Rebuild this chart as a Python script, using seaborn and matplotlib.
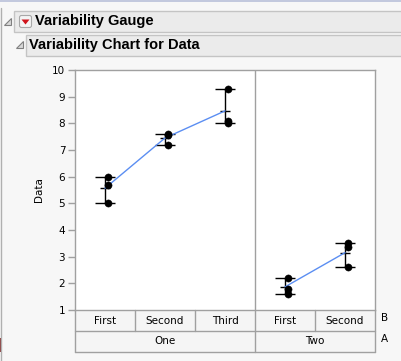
import numpy as np
import pandas as pd
import matplotlib
matplotlib.use("Agg")
import matplotlib.pyplot as plt
import matplotlib.patches as mpatches
import seaborn as sns

# ---- data ----
a_levels = ["One", "One", "One", "Two", "Two"]
b_levels = ["First", "Second", "Third", "First", "Second"]
vals_one_first = [6.0, 5.7, 5.0]
vals_one_second = [7.6, 7.55, 7.2]
vals_one_third = [9.3, 8.1, 8.0]
vals_two_first = [2.2, 1.8, 1.6]
vals_two_second = [3.5, 3.35, 2.6]
y_ticks = [1, 2, 3, 4, 5, 6, 7, 8, 9, 10]
title1 = "Variability Gauge"
title2 = "Variability Chart for Data"
y_label = "Data"

groups = [vals_one_first, vals_one_second, vals_one_third, vals_two_first, vals_two_second]
rows = []
for i, (a, b, v) in enumerate(zip(a_levels, b_levels, groups)):
    for val in v:
        rows.append({"A": a, "B": b, "pos": i, "Data": val})
df = pd.DataFrame(rows)
stats = df.groupby(["pos", "A", "B"], sort=True)["Data"].agg(["min", "max", "mean"]).reset_index()

sns.set_theme(style="white")
plt.rcParams["font.family"] = ["DejaVu Sans"]

W, H = 402, 361
fig = plt.figure(figsize=(W / 100, H / 100), dpi=100)
fig.patch.set_facecolor("#f7f7f7")

# overlay for report chrome
ov = fig.add_axes([0, 0, 1, 1], zorder=-1)
ov.set_xlim(0, W)
ov.set_ylim(H, 0)
ov.axis("off")
ov.add_patch(mpatches.Rectangle((0, 0), W, 2, facecolor="#c3c9de", edgecolor="none"))
ov.plot([1.5, 1.5], [8, H], color="#b0b0b0", lw=1)
ov.add_patch(mpatches.Rectangle((0, 338), 2, 14, facecolor="#8b3a3a", edgecolor="none"))
ov.add_patch(mpatches.Rectangle((14, 11), W, 21, facecolor="#ebebeb", edgecolor="#c4c4c4", lw=1))
ov.add_patch(mpatches.Rectangle((26, 34.5), W, 21.5, facecolor="#ebebeb", edgecolor="#c4c4c4", lw=1))
# disclosure triangles
ov.add_patch(mpatches.Polygon([[11, 17.5], [11, 25], [4, 25]], closed=True, facecolor="#d8d8d8", edgecolor="#808080", lw=0.8))
ov.add_patch(mpatches.Polygon([[23, 40.5], [23, 48], [16, 48]], closed=True, facecolor="#d8d8d8", edgecolor="#808080", lw=0.8))
# red dropdown button
ov.add_patch(mpatches.FancyBboxPatch((19.5, 15.5), 12, 12, boxstyle="round,pad=0,rounding_size=2", facecolor="#f4f4f4", edgecolor="#a8a8a8", lw=0.8))
ov.add_patch(mpatches.Polygon([[21.5, 19.5], [29.5, 19.5], [25.5, 24.5]], closed=True, facecolor="#d0141c", edgecolor="none"))
ov.text(35, 21.5, title1, fontsize=10.5, fontweight="bold", family="Liberation Sans", va="center", ha="left", color="black")
ov.text(29.5, 45.5, title2, fontsize=10.5, fontweight="bold", family="Liberation Sans", va="center", ha="left", color="black")

# main plot axes
left, right, top, bottom = 75, 375, 70, 310
ax = fig.add_axes([left / W, (H - bottom) / H, (right - left) / W, (bottom - top) / H])
ax.set_facecolor("white")

# separator between A groups
a_list = list(dict.fromkeys(a_levels))
a_bounds = []
for a in a_list:
    idx = [i for i, x in enumerate(a_levels) if x == a]
    a_bounds.append((min(idx) - 0.5, max(idx) + 0.5))
for lo, hi in a_bounds[:-1]:
    ax.axvline(hi, color="#a0a0a0", lw=1)

# range bars
ax.vlines(stats["pos"], stats["min"], stats["max"], color="black", lw=1, zorder=3)
ax.hlines(stats["min"], stats["pos"] - 0.16, stats["pos"] + 0.16, color="black", lw=1, zorder=3)
ax.hlines(stats["max"], stats["pos"] - 0.16, stats["pos"] + 0.16, color="black", lw=1, zorder=3)
ax.hlines(stats["mean"], stats["pos"] - 0.08, stats["pos"] + 0.08, color="black", lw=1, zorder=3)

# mean connecting lines
sns.lineplot(data=stats, x="pos", y="mean", units="A", estimator=None, color="#5b8ef2", lw=1, ax=ax, zorder=4, legend=False)

# points
pts = df.copy()
pts["xp"] = pts["pos"] + 0.05
sns.scatterplot(data=pts, x="xp", y="Data", color="black", s=27, edgecolor="black", linewidth=0.3, ax=ax, zorder=5, legend=False)

ax.set_xlim(-0.5, 4.5)
ax.set_ylim(1, 10)
ax.set_yticks(y_ticks)
ax.set_yticklabels([str(t) for t in y_ticks])
ax.set_xticks([])
ax.set_xlabel("")
for s in ax.spines.values():
    s.set_color("#a0a0a0")
    s.set_linewidth(1)
ax.tick_params(axis="y", direction="out", length=5, width=1, color="#a0a0a0", labelsize=7.5, pad=2, labelcolor="black", left=True)
ax.set_ylabel(y_label, fontsize=7.5, labelpad=6, color="black")

# category table below axes
tr = ax.get_xaxis_transform()
rowB = -21 / 240
rowA = -42 / 240
gc = "#a0a0a0"
ax.add_patch(mpatches.Rectangle((-0.5, rowA), 5, -rowA, transform=tr, facecolor="#f5f5f5", edgecolor="none", clip_on=False, zorder=0))
ax.plot([-0.5, 4.5], [rowB, rowB], transform=tr, color=gc, lw=1, clip_on=False)
ax.plot([-0.5, 4.5], [rowA, rowA], transform=tr, color=gc, lw=1, clip_on=False)
ax.plot([-0.5, -0.5], [0, rowA], transform=tr, color=gc, lw=1, clip_on=False)
ax.plot([4.5, 4.5], [0, rowA], transform=tr, color=gc, lw=1, clip_on=False)
for i in range(len(b_levels) - 1):
    x = i + 0.5
    y2 = rowA if a_levels[i] != a_levels[i + 1] else rowB
    ax.plot([x, x], [0, y2], transform=tr, color=gc, lw=1, clip_on=False)
for i, b in enumerate(b_levels):
    ax.text(i, rowB / 2, b, transform=tr, ha="center", va="center", fontsize=7.5, color="black")
for a, (lo, hi) in zip(a_list, a_bounds):
    ax.text((lo + hi) / 2, (rowB + rowA) / 2, a, transform=tr, ha="center", va="center", fontsize=7.5, color="black")
ax.text(4.6, rowB / 2 + 0.01, "B", transform=tr, ha="left", va="center", fontsize=7.5, color="black")
ax.text(4.6, (rowB + rowA) / 2 + 0.01, "A", transform=tr, ha="left", va="center", fontsize=7.5, color="black")

fig.savefig("out.png", dpi=100, facecolor=fig.get_facecolor())
